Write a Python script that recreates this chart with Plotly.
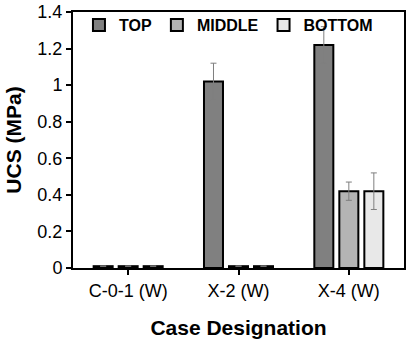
import plotly.graph_objects as go

categories = ["C-0-1 (W)", "X-2 (W)", "X-4 (W)"]
top_vals = [0.01, 1.02, 1.22]
top_err = [0, 0.10, 0.10]
mid_vals = [0.01, 0.01, 0.42]
mid_err = [0, 0, 0.05]
bot_vals = [0.01, 0.01, 0.42]
bot_err = [0, 0, 0.10]
y_ticks = [0, 0.2, 0.4, 0.6, 0.8, 1, 1.2, 1.4]
y_tick_text = ["0", "0.2", "0.4", "0.6", "0.8", "1", "1.2", "1.4"]

FONT = "Liberation Sans, Arial, sans-serif"

def bar(name, vals, errs, color):
    return go.Bar(
        name=name, x=categories, y=vals,
        marker=dict(color=color, line=dict(color="black", width=2)),
        error_y=dict(type="data", array=errs, visible=True, color="#7f7f7f", thickness=1, width=3),
    )

fig = go.Figure([
    bar("TOP", top_vals, top_err, "#808080"),
    bar("MIDDLE", mid_vals, mid_err, "#b4b4b4"),
    bar("BOTTOM", bot_vals, bot_err, "#e8e8e8"),
])

fig.update_layout(
    width=408, height=342,
    margin=dict(l=73, r=2, t=11, b=74),
    paper_bgcolor="white", plot_bgcolor="white",
    barmode="group", bargap=0.32, bargroupgap=0.24,
    font=dict(family=FONT, color="black", size=18),
    legend=dict(orientation="h", x=0.018, y=1.015, xanchor="left", yanchor="top",
                font=dict(family=FONT, size=16, color="black", weight="bold"),
                bgcolor="rgba(0,0,0,0)", itemwidth=30, tracegroupgap=0),
    xaxis=dict(
        showline=True, linecolor="black", linewidth=2, mirror=True,
        ticks="outside", ticklen=5, tickcolor="black", tickwidth=1.5,
        tickfont=dict(size=18),
        title=dict(text="Case Designation", font=dict(size=21, weight="bold"), standoff=21),
    ),
    yaxis=dict(
        range=[0, 1.4], tickvals=y_ticks, ticktext=y_tick_text,
        showline=True, linecolor="black", linewidth=2, mirror=True,
        ticks="outside", ticklen=5, tickcolor="black", tickwidth=1.5,
        showgrid=False, zeroline=False, tickfont=dict(size=18),
        title=dict(text="UCS (MPa)", font=dict(size=21, weight="bold"), standoff=10),
    ),
)

fig.write_html("out.html", config={"displayModeBar": False},
               post_script="document.body.style.margin='0';")
